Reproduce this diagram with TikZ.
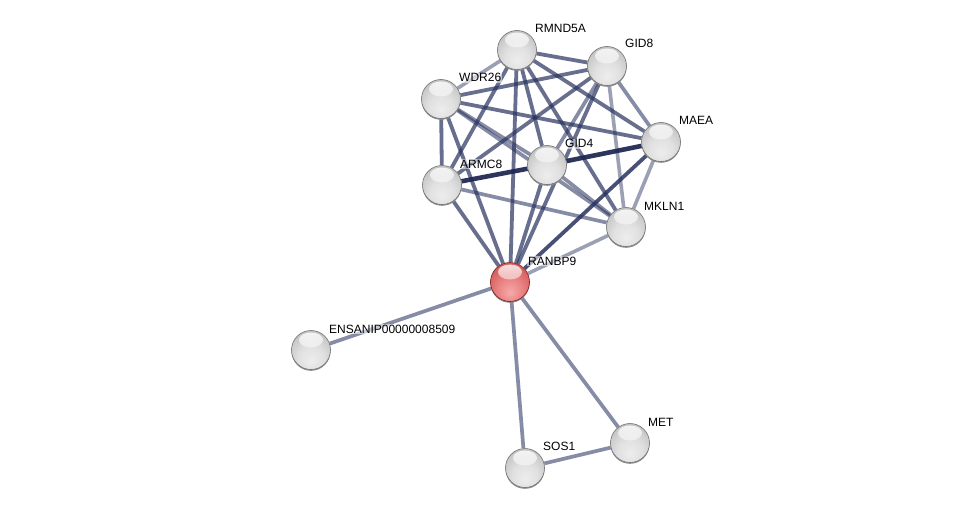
\documentclass[tikz,border=0pt]{standalone}
\usepackage{fontspec}
\setmainfont{Liberation Sans}
\usetikzlibrary{fadings}
\definecolor{ec}{RGB}{40,50,95}
\definecolor{dc}{RGB}{30,38,80}
\definecolor{rb0}{RGB}{246,170,170}
\definecolor{rb1}{RGB}{234,130,130}
\definecolor{rb2}{RGB}{214,94,94}
\definecolor{rb3}{RGB}{186,62,62}
\definecolor{rb4}{RGB}{150,40,40}
\pgfdeclareradialshading{greyball}{\pgfpoint{0bp}{-14bp}}{color(0bp)=(black!7); color(16bp)=(black!12); color(30bp)=(black!22); color(42bp)=(black!33); color(52bp)=(black!45); color(72bp)=(black!52)}
\pgfdeclareradialshading{redball}{\pgfpoint{0bp}{-14bp}}{color(0bp)=(rb0); color(16bp)=(rb1); color(30bp)=(rb2); color(46bp)=(rb3); color(72bp)=(rb4)}
\tikzfading[name=hlfade, top color=transparent!15, bottom color=transparent!100]
\pgfdeclarelayer{back}
\pgfdeclarelayer{bg}
\pgfsetlayers{back,bg,main}
\begin{document}
\begin{tikzpicture}[x=1pt,y=-1pt,
  ball/.style={circle, minimum size=39pt, inner sep=0pt, draw=black!55, line width=0.6pt, shading=greyball,
    preaction={fill=black!45, transform canvas={yshift=-1.3pt}},
    path picture={\fill[white, path fading=hlfade] ([yshift=10pt]path picture bounding box.center) ellipse [x radius=12pt, y radius=7.5pt];}},
  redb/.style={ball, shading=redball, draw=rb4!80!black},
  lbl/.style={anchor=base west, inner sep=1pt, fill=white, fill opacity=0.55, text opacity=1, font=\fontsize{12}{14}\selectfont, text=black},
  edge/.style={line width=3.8pt, draw=ec, draw opacity=0.7},
  ledge/.style={line width=3.6pt, draw=ec, draw opacity=0.46},
  medge/.style={line width=3.7pt, draw=ec, draw opacity=0.56},
  dedge/.style={line width=4.6pt, draw=dc, draw opacity=0.93}]
\begin{pgfonlayer}{back}
\fill[white] (0,0) rectangle (976,513);
\end{pgfonlayer}
\useasboundingbox (0,0) rectangle (976,513);
% nodes
\node[ball] (R) at (517,50) {};
\node[ball] (G8) at (607,66) {};
\node[ball] (W) at (441,99) {};
\node[ball] (M) at (661,142) {};
\node[ball] (G4) at (547,165) {};
\node[ball] (A) at (442,185) {};
\node[ball] (K) at (626,227) {};
\node[redb] (RB) at (510,282) {};
\node[ball] (E) at (311,350) {};
\node[ball] (T) at (630,443) {};
\node[ball] (S) at (525,468) {};
% edges
\begin{pgfonlayer}{bg}
\draw[edge] (R) -- (G8);
\draw[ledge] (R) -- (W);
\draw[edge] (R) -- (M);
\draw[edge] (R) -- (G4);
\draw[edge] (R) -- (A);
\draw[edge] (R) -- (K);
\draw[edge] (R) -- (RB);
\draw[edge] (G8) -- (W);
\draw[medge] (G8) -- (M);
\draw[medge] (G8) -- (G4);
\draw[edge] (G8) -- (A);
\draw[ledge] (G8) -- (K);
\draw[edge] (G8) -- (RB);
\draw[edge] (W) -- (M);
\draw[medge] (W) -- (G4);
\draw[edge] (W) -- (A);
\draw[medge] (W) -- (K);
\draw[edge] (W) -- (RB);
\draw[dedge] (M) -- (G4);
\draw[ledge] (M) -- (K);
\draw[edge, draw opacity=0.85] (M) -- (RB);
\draw[dedge] (G4) -- (A);
\draw[medge] (G4) -- (K);
\draw[edge] (G4) -- (RB);
\draw[medge] (A) -- (K);
\draw[edge] (A) -- (RB);
\draw[ledge] (K) -- (RB);
\draw[medge] (E) -- (RB);
\draw[medge] (RB) -- (S);
\draw[medge] (RB) -- (T);
\draw[medge] (S) -- (T);
\end{pgfonlayer}
% labels
\node[lbl] (lR) at ([xshift=17pt,yshift=17pt]R.center) {RMND5A};
\node[lbl] (lG8) at ([xshift=17pt,yshift=18pt]G8.center) {GID8};
\node[lbl] (lW) at ([xshift=17pt,yshift=17pt]W.center) {WDR26};
\node[lbl] (lM) at ([xshift=17pt,yshift=17pt]M.center) {MAEA};
\node[lbl] (lG4) at ([xshift=17pt,yshift=17pt]G4.center) {GID4};
\node[lbl] (lA) at ([xshift=17pt,yshift=17pt]A.center) {ARMC8};
\node[lbl] (lK) at ([xshift=17pt,yshift=17pt]K.center) {MKLN1};
\node[lbl] (lRB) at ([xshift=17pt,yshift=17pt]RB.center) {RANBP9};
\node[lbl] (lE) at ([xshift=17pt,yshift=17pt]E.center) {ENSANIP00000008509};
\node[lbl] (lT) at ([xshift=17pt,yshift=17pt]T.center) {MET};
\node[lbl] (lS) at ([xshift=17pt,yshift=18pt]S.center) {SOS1};
\end{tikzpicture}
\end{document}
